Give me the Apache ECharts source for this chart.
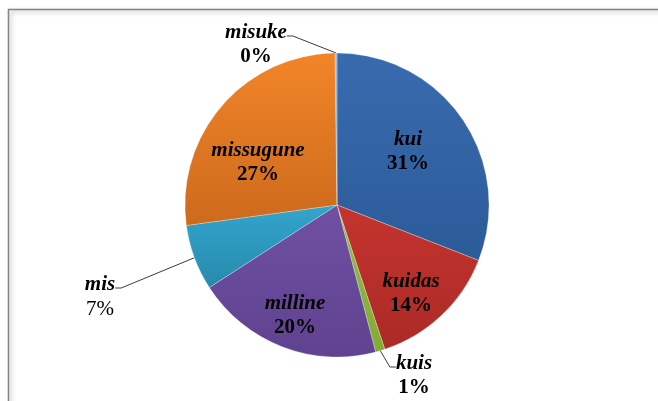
<!DOCTYPE html>
<html>
<head>
<meta charset="utf-8">
<script src="https://cdn.jsdelivr.net/npm/echarts@6/dist/echarts.min.js"></script>
<style>
  html, body { margin: 0; padding: 0; background: #ffffff; }
  #chart { width: 658px; height: 401px; }
</style>
</head>
<body>
<div id="chart"></div>
<script>
// Question words and their shares (%)
const categories = ['kui', 'kuidas', 'kuis', 'milline', 'mis', 'missugune', 'misuke'];
const shares = [31, 14, 1, 20, 7, 27, 0.2];

// Slice fills: lighter top, darker bottom
const topColors = ['#386bae', '#c4342e', '#93bf44', '#7050a2', '#33a5cc', '#f28528', '#8fb3de'];
const bottomColors = ['#2c5b99', '#ac2a26', '#82ab36', '#5f4290', '#278aad', '#cc6a1c', '#7aa0cc'];

// Labels that sit outside the pie with a leader line
const outsideLabels = ['kuis', 'mis', 'misuke'];
// Label block centres, measured from the pie centre
const labelSpots = [[71, -53], [74, 89], [77, 162], [-42, 111], [-237, 83], [-79, -42], [-81, -169]];
// Percentage text drawn in regular weight
const plainPercent = ['mis'];

const CX = 337, CY = 205, R = 152;

const chart = echarts.init(document.getElementById('chart'), null, { renderer: 'canvas' });

const seriesData = categories.map(function (name, i) {
  const outside = outsideLabels.indexOf(name) >= 0;
  const item = {
    name: name,
    value: shares[i],
    itemStyle: {
      color: {
        type: 'linear', x: 0, y: 0, x2: 0, y2: 1,
        colorStops: [
          { offset: 0, color: topColors[i] },
          { offset: 1, color: bottomColors[i] }
        ]
      }
    },
    labelLine: { show: outside }
  };
  // extra (invisible) room above so the leader line meets the word, not the gap between lines
  if (outside) item.label = { padding: [18, 0, 0, 0], backgroundColor: 'rgba(255,255,255,0)' };
  return item;
});

const textFont = '"Liberation Serif", "Times New Roman", serif';

chart.setOption({
  animation: false,
  backgroundColor: '#ffffff',
  graphic: [{
    type: 'rect',
    silent: true,
    z: -10,
    shape: { x: 8.5, y: 9.5, width: 720, height: 520 },
    style: {
      fill: 'none',
      stroke: '#858585',
      lineWidth: 1.5,
      shadowBlur: 4,
      shadowColor: 'rgba(0,0,0,0.3)',
      shadowOffsetX: 2,
      shadowOffsetY: 2
    }
  }],
  series: [{
    type: 'pie',
    center: [CX, CY],
    radius: [0, R],
    startAngle: 90,
    clockwise: true,
    avoidLabelOverlap: false,
    data: seriesData,
    itemStyle: {
      borderColor: 'rgba(255,255,255,0.45)',
      borderWidth: 0.6
    },
    label: {
      show: true,
      position: 'outside',
      color: '#000000',
      fontFamily: textFont,
      formatter: function (p) {
        const pct = Math.round(p.percent) + '%';
        const tag = plainPercent.indexOf(p.name) >= 0 ? 'q' : 'p';
        return '{n|' + p.name + '}\n{' + tag + '|' + pct + '}';
      },
      rich: {
        n: { fontFamily: textFont, fontSize: 21, fontWeight: 'bold', fontStyle: 'italic', color: '#000', align: 'center', lineHeight: 24 },
        p: { fontFamily: textFont, fontSize: 21, fontWeight: 'bold', color: '#000', align: 'center', lineHeight: 24 },
        q: { fontFamily: textFont, fontSize: 21, fontWeight: 'normal', color: '#000', align: 'center', lineHeight: 24 }
      }
    },
    labelLine: {
      length: 10,
      length2: 6,
      smooth: false,
      lineStyle: { color: '#3c3c3c', width: 1 }
    },
    labelLayout: function (p) {
      const spot = labelSpots[p.dataIndex];
      return {
        x: CX + spot[0],
        y: CY + spot[1],
        align: 'center',
        verticalAlign: 'middle'
      };
    }
  }]
});
</script>
</body>
</html>
